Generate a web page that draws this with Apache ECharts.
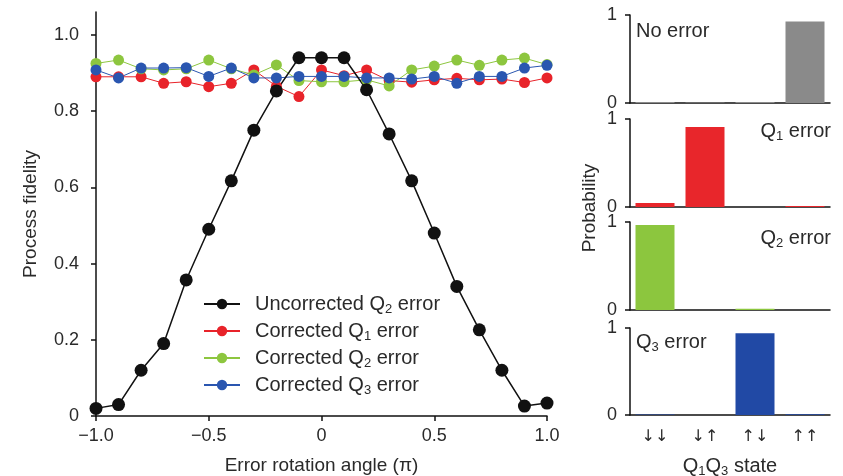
<!DOCTYPE html>
<html>
<head>
<meta charset="utf-8">
<script src="https://cdn.jsdelivr.net/npm/echarts@6/dist/echarts.min.js"></script>
<style>
  html, body { margin: 0; padding: 0; background: #fff; }
  #chart { width: 843px; height: 476px; }
</style>
</head>
<body>
<div id="chart"></div>
<script>
// error rotation angle (units of pi)
var angles = [-1.0, -0.9, -0.8, -0.7, -0.6, -0.5, -0.4, -0.3, -0.2, -0.1, 0.0,
              0.1, 0.2, 0.3, 0.4, 0.5, 0.6, 0.7, 0.8, 0.9, 1.0];
var uncorrQ2 = [0.02, 0.03, 0.12, 0.19, 0.357, 0.49, 0.617, 0.75, 0.853, 0.94, 0.94,
                0.94, 0.856, 0.74, 0.617, 0.48, 0.34, 0.226, 0.12, 0.026, 0.034];
var corrQ1 = [0.89, 0.89, 0.89, 0.873, 0.877, 0.864, 0.873, 0.908, 0.865, 0.838, 0.908,
              0.893, 0.908, 0.88, 0.876, 0.882, 0.886, 0.882, 0.884, 0.875, 0.887];
var corrQ2 = [0.925, 0.934, 0.911, 0.908, 0.911, 0.934, 0.911, 0.895, 0.921, 0.88, 0.877,
              0.877, 0.882, 0.866, 0.908, 0.918, 0.934, 0.92, 0.934, 0.939, 0.922];
var corrQ3 = [0.908, 0.887, 0.913, 0.913, 0.914, 0.891, 0.913, 0.887, 0.887, 0.891, 0.891,
              0.891, 0.887, 0.887, 0.884, 0.891, 0.873, 0.891, 0.891, 0.913, 0.92];

// Q1Q3 state probabilities
var states = ['↓↓', '↓↑', '↑↓', '↑↑'];
var noError = [0.01, 0.005, 0.01, 0.925];
var q1Error = [0.045, 0.91, 0.0, 0.01];
var q2Error = [0.965, 0.0, 0.015, 0.0];
var q3Error = [0.005, 0.0, 0.94, 0.01];

var fidelityTicks = [0, 0.2, 0.4, 0.6, 0.8, 1.0];

var FONT = 'Liberation Sans, Arial, sans-serif';
var TXT = '#2a2a2a';
var sub = { fontSize: 13, fontFamily: FONT, color: TXT, padding: [10, 0, 0, 0] };

function pairs(ys) {
    return angles.map(function (a, i) { return [a, ys[i]]; });
}

var axisLine = { onZero: false, lineStyle: { color: '#111', width: 1.5 } };
var axisTick = { inside: false, length: 5, lineStyle: { color: '#111', width: 1.5 } };

var grids = [
    { left: 96, right: 296, top: 12, bottom: 60, outerBoundsMode: 'none' },
    { left: 630, right: 13, top: 15, height: 88, outerBoundsMode: 'none' },
    { left: 630, right: 13, top: 119, height: 88, outerBoundsMode: 'none' },
    { left: 630, right: 13, top: 222, height: 88, outerBoundsMode: 'none' },
    { left: 630, right: 13, top: 328, height: 87, outerBoundsMode: 'none' }
];

var xAxes = [{
    type: 'value', gridIndex: 0, min: -1, max: 1, interval: 0.5,
    axisLine: axisLine, axisTick: axisTick, splitLine: { show: false },
    axisLabel: {
        color: TXT, fontSize: 18, fontFamily: FONT, margin: 11,
        formatter: function (v) { return v === 0 ? '0' : v.toFixed(1).replace('-', '\u2212'); }
    },
    name: 'Error rotation angle (\u03c0)', nameLocation: 'middle', nameGap: 40,
    nameTextStyle: { color: TXT, fontSize: 19, fontFamily: FONT }
}];
var yAxes = [{
    type: 'value', gridIndex: 0, min: 0, max: 1.06,
    axisLine: { show: true, onZero: false, lineStyle: axisLine.lineStyle },
    axisTick: { show: true, length: 5, lineStyle: axisTick.lineStyle, customValues: fidelityTicks },
    splitLine: { show: false },
    axisLabel: {
        color: TXT, fontSize: 18, fontFamily: FONT, margin: 17, customValues: fidelityTicks,
        formatter: function (v) { return v === 0 ? '0' : v.toFixed(1); }
    },
    name: 'Process fidelity', nameLocation: 'middle', nameGap: 56,
    nameTextStyle: { color: TXT, fontSize: 19, fontFamily: FONT }
}];

for (var g = 1; g <= 4; g++) {
    xAxes.push({
        type: 'category', gridIndex: g, data: states,
        axisLine: axisLine,
        axisTick: { alignWithLabel: true, length: 4, lineStyle: axisTick.lineStyle },
        axisLabel: { show: g === 4, color: TXT, fontSize: 16, fontFamily: 'DejaVu Sans, sans-serif', margin: 14 }
    });
    yAxes.push({
        type: 'value', gridIndex: g, min: 0, max: 1, interval: 1,
        axisLine: { show: true, onZero: false, lineStyle: axisLine.lineStyle },
        axisTick: { show: true, length: 5, lineStyle: axisTick.lineStyle },
        splitLine: { show: false },
        axisLabel: { color: TXT, fontSize: 18, fontFamily: FONT, margin: 13 }
    });
}

function lineSeries(name, ys, color, size, width) {
    return {
        name: name, type: 'line', xAxisIndex: 0, yAxisIndex: 0,
        data: pairs(ys), symbol: 'circle', symbolSize: size,
        itemStyle: { color: color }, lineStyle: { color: color, width: width },
        clip: false
    };
}

function barSeries(g, vals, color) {
    return {
        type: 'bar', xAxisIndex: g, yAxisIndex: g, data: vals,
        barWidth: 39, itemStyle: { color: color }
    };
}

var legendNames = {
    'Uncorrected Q2 error': 'Uncorrected Q{s|2} error',
    'Corrected Q1 error': 'Corrected Q{s|1} error',
    'Corrected Q2 error': 'Corrected Q{s|2} error',
    'Corrected Q3 error': 'Corrected Q{s|3} error'
};

var option = {
    animation: false,
    grid: grids,
    xAxis: xAxes,
    yAxis: yAxes,
    legend: {
        data: ['Uncorrected Q2 error', 'Corrected Q1 error', 'Corrected Q2 error', 'Corrected Q3 error'],
        orient: 'vertical', left: 198, top: 289, itemGap: 5.5,
        itemWidth: 36, itemHeight: 13,
        formatter: function (n) { return legendNames[n]; },
        textStyle: { color: TXT, fontSize: 20, fontFamily: FONT, padding: [0, 0, 0, 10], rich: { s: sub } }
    },
    series: [
        lineSeries('Corrected Q1 error', corrQ1, '#e8232a', 11, 1),
        lineSeries('Corrected Q2 error', corrQ2, '#8dc63f', 11, 1),
        lineSeries('Corrected Q3 error', corrQ3, '#2a56b0', 11, 1),
        lineSeries('Uncorrected Q2 error', uncorrQ2, '#111111', 13, 1.5),
        barSeries(1, noError, '#8a8a8a'),
        barSeries(2, q1Error, '#e8262b'),
        barSeries(3, q2Error, '#8cc63e'),
        barSeries(4, q3Error, '#2149a5')
    ],
    graphic: [
        { type: 'text', x: 636, y: 21, style: { text: 'No error', font: '20px ' + FONT, fill: TXT } },
        { type: 'text', x: 831, y: 120, style: { text: 'Q{s|1} error', font: '20px ' + FONT, fill: TXT, align: 'right', rich: { s: sub } } },
        { type: 'text', x: 831, y: 227, style: { text: 'Q{s|2} error', font: '20px ' + FONT, fill: TXT, align: 'right', rich: { s: sub } } },
        { type: 'text', x: 636, y: 331, style: { text: 'Q{s|3} error', font: '20px ' + FONT, fill: TXT, rich: { s: sub } } },
        { type: 'text', x: 590, y: 208, rotation: Math.PI / 2,
          style: { text: 'Probability', font: '19px ' + FONT, fill: TXT, align: 'center', verticalAlign: 'middle' } },
        { type: 'text', x: 730, y: 466,
          style: { text: 'Q{s|1}Q{s|3} state', font: '20px ' + FONT, fill: TXT, align: 'center', verticalAlign: 'middle', rich: { s: sub } } }
    ]
};

var myChart = echarts.init(document.getElementById('chart'));
myChart.setOption(option);
</script>
</body>
</html>
